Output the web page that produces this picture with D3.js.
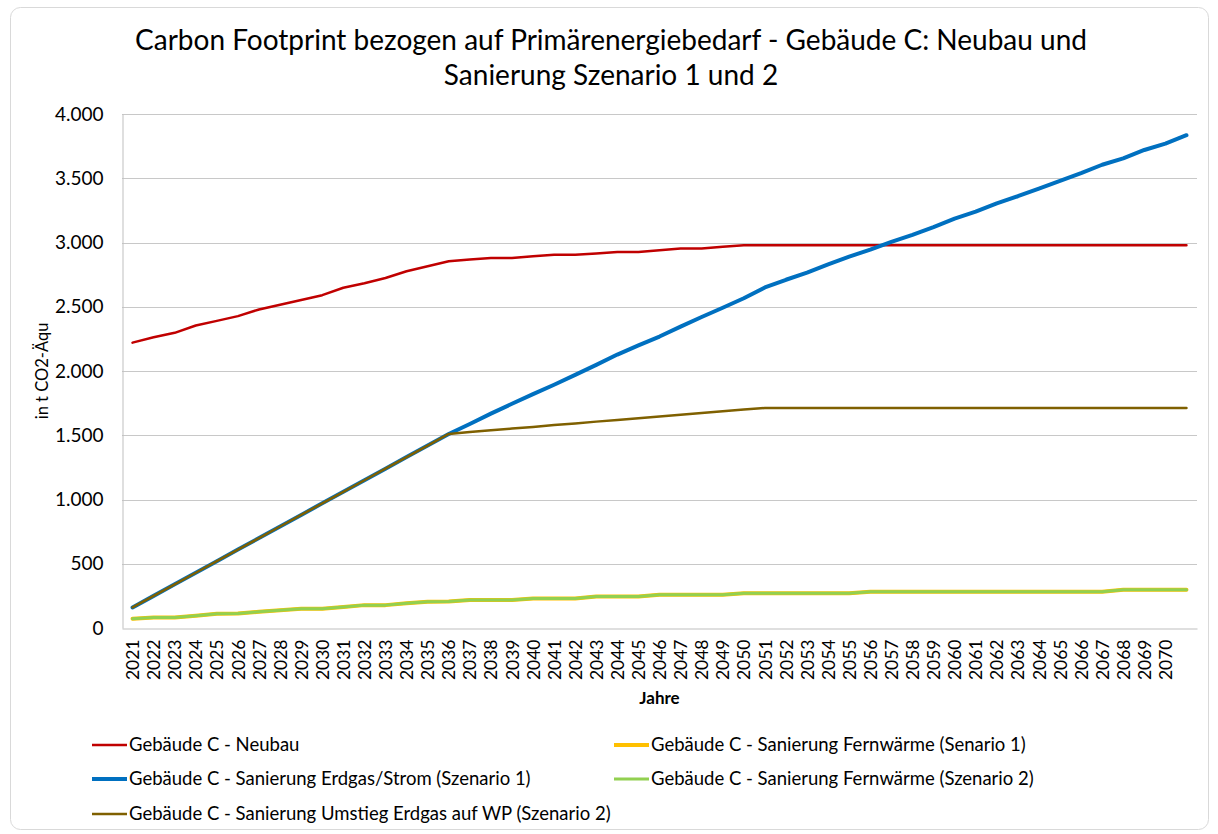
<!DOCTYPE html>
<html>
<head>
<meta charset="utf-8">
<script src="https://cdn.jsdelivr.net/npm/d3@7"></script>
<style>
    body { margin: 0; background: #fff; }
    svg text { font-family: Lato, "Open Sans", sans-serif; fill: #000; }
</style>
</head>
<body>
<div id="chart"></div>
<script>
// categories (last one has no label on the axis)
var years = [2021, 2022, 2023, 2024, 2025, 2026, 2027, 2028, 2029, 2030,
    2031, 2032, 2033, 2034, 2035, 2036, 2037, 2038, 2039, 2040,
    2041, 2042, 2043, 2044, 2045, 2046, 2047, 2048, 2049, 2050,
    2051, 2052, 2053, 2054, 2055, 2056, 2057, 2058, 2059, 2060,
    2061, 2062, 2063, 2064, 2065, 2066, 2067, 2068, 2069, 2070, 2071];
var tickLabels = years.map(function (y) { return y < 2071 ? String(y) : ""; });

var yTicks = [0, 500, 1000, 1500, 2000, 2500, 3000, 3500, 4000];

var neubau = [2221, 2262, 2297, 2354, 2390, 2427, 2479, 2516, 2553, 2590,
    2648, 2683, 2724, 2776, 2815, 2854, 2868, 2880, 2880, 2893,
    2904, 2904, 2915, 2927, 2927, 2940, 2953, 2953, 2966, 2979,
    2979, 2979, 2979, 2979, 2979, 2979, 2979, 2979, 2979, 2979,
    2979, 2979, 2979, 2979, 2979, 2979, 2979, 2979, 2979, 2979, 2979];

var fernwaerme1 = [72, 82, 82, 95, 110, 112, 126, 139, 150, 150,
    163, 178, 178, 192, 205, 206, 217, 217, 217, 230,
    230, 230, 245, 245, 245, 259, 259, 259, 259, 270,
    270, 270, 270, 270, 270, 283, 283, 283, 283, 283,
    283, 283, 283, 283, 283, 283, 283, 297, 297, 297, 297];

var erdgasStrom = [160, 250, 340, 430, 520, 610, 700, 790, 880, 970,
    1060, 1150, 1240, 1330, 1420, 1510, 1588, 1668, 1745, 1820,
    1893, 1970, 2048, 2128, 2200, 2268, 2345, 2420, 2492, 2566,
    2650, 2710, 2765, 2830, 2890, 2945, 3005, 3060, 3120, 3185,
    3240, 3305, 3360, 3420, 3480, 3540, 3605, 3655, 3720, 3770, 3835];

var fernwaerme2 = [72, 82, 82, 95, 110, 112, 126, 139, 150, 150,
    163, 178, 178, 192, 205, 206, 217, 217, 217, 230,
    230, 230, 245, 245, 245, 259, 259, 259, 259, 270,
    270, 270, 270, 270, 270, 283, 283, 283, 283, 283,
    283, 283, 283, 283, 283, 283, 283, 297, 297, 297, 297];

var umstiegWP = [160, 250, 340, 430, 520, 610, 700, 790, 880, 970,
    1060, 1150, 1240, 1330, 1420, 1510, 1525, 1538, 1552, 1565,
    1579, 1592, 1606, 1619, 1633, 1646, 1660, 1673, 1687, 1700,
    1712, 1712, 1712, 1712, 1712, 1712, 1712, 1712, 1712, 1712,
    1712, 1712, 1712, 1712, 1712, 1712, 1712, 1712, 1712, 1712, 1712];

// drawing order = excel series order
var series = [
    { name: "Gebäude C - Neubau", values: neubau, color: "#c00000", width: 2.5 },
    { name: "Gebäude C - Sanierung Fernwärme (Senario 1)", values: fernwaerme1, color: "#ffc000", width: 4 },
    { name: "Gebäude C - Sanierung Erdgas/Strom (Szenario 1)", values: erdgasStrom, color: "#0070c0", width: 4 },
    { name: "Gebäude C - Sanierung Fernwärme (Szenario 2)", values: fernwaerme2, color: "#92d050", width: 3 },
    { name: "Gebäude C - Sanierung Umstieg Erdgas auf WP (Szenario 2)", values: umstiegWP, color: "#7f6000", width: 2.5 }
];

var W = 1218, H = 834;
var plot = { left: 122, right: 1197, top: 114, bottom: 628 };

var de = d3.formatLocale({ decimal: ",", thousands: ".", grouping: [3], currency: ["", " €"] });
var fmt = de.format(",");

var svg = d3.select("#chart").append("svg")
    .attr("width", W)
    .attr("height", H);

svg.append("rect")
    .attr("x", 10.5).attr("y", 7.5)
    .attr("width", 1198).attr("height", 822)
    .attr("rx", 10)
    .attr("fill", "#fff")
    .attr("stroke", "#d9d9d9");

svg.append("text")
    .attr("x", 611).attr("y", 50)
    .attr("text-anchor", "middle")
    .style("font-size", "28px")
    .text("Carbon Footprint bezogen auf Primärenergiebedarf - Gebäude C: Neubau und");
svg.append("text")
    .attr("x", 611).attr("y", 85)
    .attr("text-anchor", "middle")
    .style("font-size", "28px")
    .text("Sanierung Szenario 1 und 2");

var x = d3.scalePoint()
    .domain(years)
    .range([plot.left, plot.right])
    .padding(0.5);

var y = d3.scaleLinear()
    .domain([0, 4000])
    .range([plot.bottom, plot.top]);

// gridlines
svg.append("g")
    .selectAll("line")
    .data(yTicks.slice(1))
    .join("line")
    .attr("x1", plot.left).attr("x2", plot.right)
    .attr("y1", function (d) { return Math.round(y(d)) + 0.5; })
    .attr("y2", function (d) { return Math.round(y(d)) + 0.5; })
    .attr("stroke", "#c8c8c8");

// y axis
var yAxis = svg.append("g")
    .attr("transform", "translate(" + (plot.left + 0.5) + ",0)")
    .call(d3.axisLeft(y).tickValues(yTicks).tickFormat(fmt).tickSize(0).tickPadding(19));
yAxis.select(".domain").attr("stroke", "#bfbfbf");
yAxis.selectAll("text").style("font-size", "19px");

// x axis
var xAxis = svg.append("g")
    .attr("transform", "translate(0," + (plot.bottom + 0.5) + ")")
    .call(d3.axisBottom(x).tickSize(0).tickFormat(function (d, i) { return tickLabels[i]; }));
xAxis.select(".domain").attr("stroke", "#bfbfbf");
xAxis.selectAll("text")
    .style("font-size", "17.5px")
    .attr("text-anchor", "end")
    .attr("transform", "translate(0,11) rotate(-90)")
    .attr("x", 0).attr("y", 0)
    .attr("dy", "0.35em");

svg.append("text")
    .attr("transform", "translate(42,371) rotate(-90)")
    .attr("text-anchor", "middle")
    .attr("dy", "0.35em")
    .style("font-size", "16.5px")
    .text("in t CO2-Äqu");

svg.append("text")
    .attr("x", (plot.left + plot.right) / 2).attr("y", 698)
    .attr("text-anchor", "middle")
    .attr("dy", "0.35em")
    .style("font-size", "17px")
    .style("font-weight", "bold")
    .text("Jahre");

var line = d3.line()
    .x(function (d, i) { return x(years[i]); })
    .y(function (d) { return y(d); });

svg.append("g")
    .selectAll("path")
    .data(series)
    .join("path")
    .attr("d", function (s) { return line(s.values); })
    .attr("fill", "none")
    .attr("stroke", function (s) { return s.color; })
    .attr("stroke-width", function (s) { return s.width; })
    .attr("stroke-linejoin", "round")
    .attr("stroke-linecap", "round");

// legend, two columns
var legendPos = [
    { x: 92, y: 745 },
    { x: 614, y: 745 },
    { x: 92, y: 779 },
    { x: 614, y: 779 },
    { x: 92, y: 814 }
];

var legend = svg.append("g")
    .selectAll("g")
    .data(series)
    .join("g")
    .attr("transform", function (s, i) { return "translate(" + legendPos[i].x + "," + legendPos[i].y + ")"; });

legend.append("line")
    .attr("x1", 0).attr("x2", 35)
    .attr("stroke", function (s) { return s.color; })
    .attr("stroke-width", function (s) { return s.width; });

legend.append("text")
    .attr("x", 37)
    .attr("dy", "0.35em")
    .style("font-size", "18.5px")
    .text(function (s) { return s.name; });
</script>
</body>
</html>
